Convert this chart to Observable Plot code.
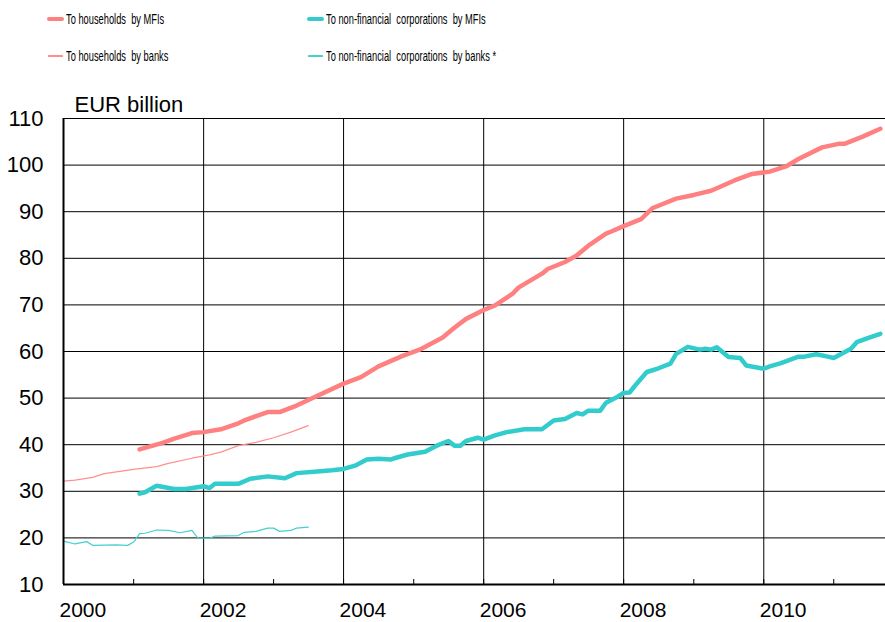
<!DOCTYPE html>
<html>
<head>
<meta charset="utf-8">
<script src="https://cdn.jsdelivr.net/npm/d3@7"></script>
<script src="https://cdn.jsdelivr.net/npm/@observablehq/plot@0.6"></script>
<style>
  html, body { margin: 0; padding: 0; background: #fff; }
  #wrap { width: 885px; font-family: "Liberation Sans", Arial, sans-serif; }
  #legend { position: relative; width: 885px; height: 80px; }
  .sw { position: absolute; height: 0; }
  .lt { position: absolute; white-space: pre; font-size: 15.5px; line-height: 18px; color: #000;
        transform: scaleX(0.6); transform-origin: left center; }
  svg { display: block; }
</style>
</head>
<body>
<div id="wrap">
  <div id="legend"></div>
  <div id="chart"></div>
</div>
<script>
// ---- data (EUR billion, monthly readings) ----
const seriesNames = [
  "To households  by MFIs",
  "To non-financial  corporations  by MFIs",
  "To households  by banks",
  "To non-financial  corporations  by banks *"
];
const seriesColors = ["#FF8080", "#33CCCC", "#FF8F8F", "#45D0D0"];
const seriesWidths = [4.5, 4.5, 1.2, 1.2];

const hhMfiDates = ["2001-02","2001-06","2001-08","2001-11","2002-01","2002-04","2002-07","2002-08","2002-12","2003-02","2003-05","2003-08","2004-01","2004-04","2004-07","2004-11","2005-02","2005-06","2005-08","2005-10","2006-01","2006-03","2006-06","2006-07","2006-11","2006-12","2007-03","2007-05","2007-07","2007-10","2007-11","2008-01","2008-04","2008-06","2008-10","2009-01","2009-04","2009-08","2009-11","2010-02","2010-05","2010-07","2010-11","2011-02","2011-03","2011-06","2011-09"];
const hhMfiValues = [39.0,40.4,41.3,42.5,42.7,43.3,44.6,45.2,47.0,47.0,48.4,50.2,53.1,54.5,56.8,59.0,60.4,63.0,65.1,67.0,68.9,69.9,72.4,73.7,76.7,77.7,79.2,80.6,82.7,85.3,85.8,86.9,88.4,90.8,92.8,93.6,94.5,96.7,98.1,98.6,99.8,101.3,103.8,104.6,104.6,106.1,107.8];

const nfcMfiDates = ["2001-02","2001-03","2001-05","2001-08","2001-10","2002-01","2002-02","2002-03","2002-07","2002-09","2002-12","2003-03","2003-05","2003-09","2003-11","2004-01","2004-03","2004-05","2004-07","2004-09","2004-10","2004-12","2005-03","2005-05","2005-07","2005-08","2005-09","2005-10","2005-12","2006-01","2006-03","2006-05","2006-08","2006-11","2007-01","2007-03","2007-05","2007-06","2007-07","2007-09","2007-10","2007-12","2008-01","2008-02","2008-03","2008-05","2008-07","2008-09","2008-10","2008-12","2009-02","2009-03","2009-04","2009-05","2009-07","2009-09","2009-10","2010-01","2010-02","2010-04","2010-07","2010-08","2010-10","2010-12","2011-01","2011-04","2011-05","2011-07","2011-09"];
const nfcMfiValues = [29.5,29.8,31.2,30.5,30.5,31.1,30.7,31.6,31.6,32.7,33.2,32.8,33.9,34.3,34.5,34.8,35.5,36.8,37.0,36.8,37.2,37.9,38.5,39.8,40.8,39.8,39.8,40.8,41.5,41.1,42.0,42.7,43.3,43.3,45.2,45.5,46.8,46.5,47.3,47.3,49.0,50.3,51.1,51.2,52.7,55.6,56.4,57.4,59.5,61.0,60.4,60.6,60.4,60.9,58.8,58.6,57.0,56.3,56.8,57.5,58.9,58.9,59.4,58.9,58.6,60.6,62.0,62.9,63.8];

const hhBankDates = ["2000-01","2000-03","2000-06","2000-08","2001-01","2001-05","2001-07","2001-11","2002-02","2002-04","2002-07","2002-10","2003-01","2003-04","2003-07"];
const hhBankValues = [32.2,32.4,33.0,33.8,34.7,35.3,36.0,37.1,37.8,38.4,39.8,40.5,41.5,42.7,44.1];

const nfcBankDates = ["2000-01","2000-03","2000-05","2000-06","2000-10","2000-12","2001-01","2001-02","2001-03","2001-05","2001-07","2001-09","2001-11","2001-12","2002-02","2002-03","2002-07","2002-08","2002-10","2002-12","2003-01","2003-02","2003-04","2003-05","2003-07"];
const nfcBankValues = [19.3,18.7,19.2,18.4,18.5,18.4,19.1,20.9,21.0,21.7,21.6,21.1,21.6,20.0,19.9,20.4,20.5,21.2,21.4,22.1,22.1,21.4,21.6,22.1,22.3];

const yTicks = [10,20,30,40,50,60,70,80,90,100,110];
const yearLabels = ["2000","2002","2004","2006","2008","2010"];
const allYears = ["2000","2001","2002","2003","2004","2005","2006","2007","2008","2009","2010","2011"];
const gridYears = ["2002","2004","2006","2008","2010"];

// ---- build ----
const pm = d3.utcParse("%Y-%m");
const py = d3.utcParse("%Y");
function rows(dates, values, k) { return dates.map((d, i) => ({date: pm(d), value: values[i], k})); }
const hhMfi = rows(hhMfiDates, hhMfiValues, 0);
const nfcMfi = rows(nfcMfiDates, nfcMfiValues, 1);
const hhBank = rows(hhBankDates, hhBankValues, 2);
const nfcBank = rows(nfcBankDates, nfcBankValues, 3);

// legend
const legend = document.getElementById("legend");
const legendPos = [
  {sx: 47, tx: 66, y: 19}, {sx: 307, tx: 326, y: 19},
  {sx: 48, tx: 66, y: 56}, {sx: 308, tx: 326, y: 56}
];
seriesNames.forEach((name, i) => {
  const p = legendPos[i];
  const sw = document.createElement("div");
  sw.className = "sw";
  const w = seriesWidths[i];
  sw.style.cssText = `left:${p.sx}px;top:${p.y - w/2}px;width:${i < 2 ? 17 : 15}px;height:${w}px;background:${seriesColors[i]};border-radius:${w/2}px;`;
  legend.appendChild(sw);
  const t = document.createElement("div");
  t.className = "lt";
  t.textContent = name;
  t.style.left = p.tx + "px";
  t.style.top = (p.y - 9) + "px";
  legend.appendChild(t);
});

const chart = Plot.plot({
  width: 885,
  height: 542,
  marginLeft: 63,
  marginRight: 0,
  marginTop: 38,
  marginBottom: 38,
  style: {fontFamily: "'Liberation Sans', Arial, sans-serif", fontSize: "22px", color: "#000", background: "#fff", overflow: "visible"},
  x: {type: "utc", domain: [py("2000"), new Date(Date.UTC(2011, 8, 28))]},
  y: {domain: [10, 110]},
  marks: [
    Plot.ruleY(yTicks.slice(1), {stroke: "#000", strokeWidth: 1}),
    Plot.ruleX(gridYears.map(py), {stroke: "#000", strokeWidth: 1}),
    Plot.tickX(allYears.map(py), {stroke: "#000", strokeWidth: 1, insetTop: 461}),
    Plot.line(hhBank, {x: "date", y: "value", stroke: seriesColors[2], strokeWidth: seriesWidths[2]}),
    Plot.line(nfcBank, {x: "date", y: "value", stroke: seriesColors[3], strokeWidth: seriesWidths[3]}),
    Plot.line(hhMfi, {x: "date", y: "value", stroke: seriesColors[0], strokeWidth: seriesWidths[0], strokeLinejoin: "round"}),
    Plot.line(nfcMfi, {x: "date", y: "value", stroke: seriesColors[1], strokeWidth: seriesWidths[1], strokeLinejoin: "round"}),
    Plot.ruleY([10], {stroke: "#000", strokeWidth: 2}),
    Plot.ruleX([py("2000")], {stroke: "#000", strokeWidth: 2}),
    Plot.axisY(yTicks, {tickSize: 0, tickPadding: 20, label: null, fontSize: 22}),
    Plot.axisX(yearLabels.map(py), {tickSize: 0, tickPadding: 18, label: null, fontSize: 21,
      tickFormat: d3.utcFormat("%Y"), textAnchor: "start", dx: -4}),
    Plot.text(["EUR billion"], {frameAnchor: "top-left", dx: 11, dy: -7, fontSize: 22, textAnchor: "start", lineAnchor: "bottom"})
  ]
});
document.getElementById("chart").appendChild(chart);
</script>
</body>
</html>
